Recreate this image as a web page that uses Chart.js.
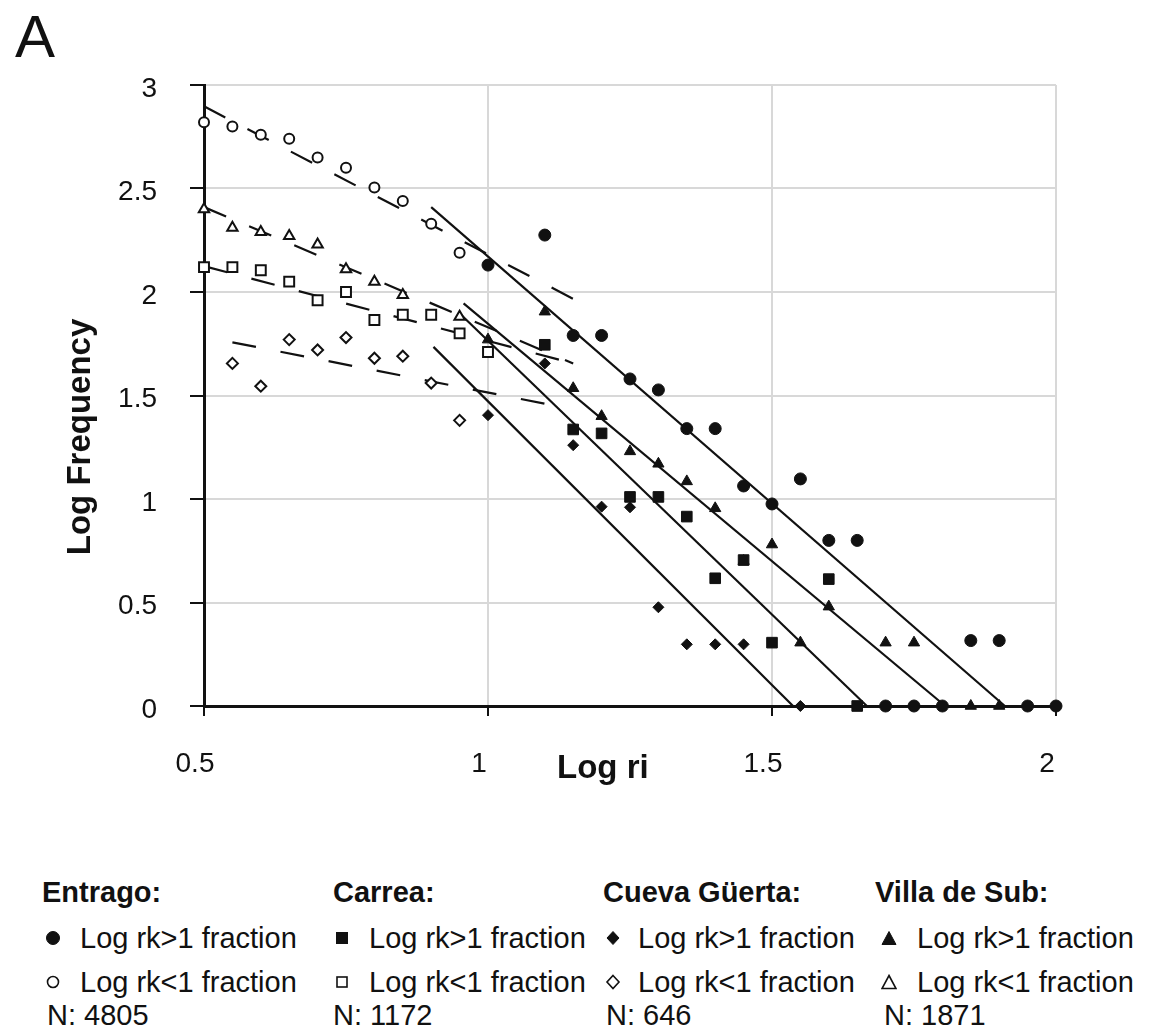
<!DOCTYPE html>
<html>
<head>
<meta charset="utf-8">
<script src="https://cdn.jsdelivr.net/npm/chart.js@4.4.1/dist/chart.umd.min.js"></script>
<style>
  html, body { margin: 0; padding: 0; background: #fff; }
  body { width: 1150px; height: 1036px; position: relative; overflow: hidden;
         font-family: "Liberation Sans", Arial, Helvetica, sans-serif; color: #111; }
  #plot { position: absolute; left: 0; top: 0; width: 1150px; height: 800px; }
  #panel { position: absolute; left: 15px; top: 7px; font-size: 60px; line-height: 60px; }
  .lg { position: absolute; font-size: 29px; line-height: 29px; white-space: nowrap; }
  .lg.head { font-weight: bold; }
  .mk { position: absolute; }
</style>
</head>
<body>
<div id="panel">A</div>
<div id="plot"><canvas id="freqChart"></canvas></div>
<div id="legend"></div>
<script>
// Log ri vs Log frequency, four sites, each split in rk<1 / rk>1 fractions

const xTicks = [0.5, 1, 1.5, 2];
const yTicks = [0, 0.5, 1, 1.5, 2, 2.5, 3];
const xTitle = 'Log ri';
const yTitle = 'Log Frequency';

// Entrago
const entragoLowX  = [0.5, 0.55, 0.6, 0.65, 0.7, 0.75, 0.8, 0.85, 0.9, 0.95];
const entragoLowY  = [2.82, 2.80, 2.76, 2.74, 2.65, 2.60, 2.505, 2.44, 2.33, 2.19];
const entragoHighX = [1.0, 1.1, 1.15, 1.2, 1.25, 1.3, 1.35, 1.4, 1.45, 1.5, 1.55, 1.6, 1.65, 1.7, 1.75, 1.8, 1.85, 1.9, 1.95, 2.0];
const entragoHighY = [2.13, 2.275, 1.79, 1.79, 1.58, 1.527, 1.34, 1.34, 1.063, 0.976, 1.097, 0.80, 0.80, 0, 0, 0, 0.316, 0.316, 0, 0];

// Carrea
const carreaLowX  = [0.5, 0.55, 0.6, 0.65, 0.7, 0.75, 0.8, 0.85, 0.9, 0.95, 1.0];
const carreaLowY  = [2.12, 2.12, 2.105, 2.05, 1.96, 2.0, 1.865, 1.89, 1.89, 1.80, 1.71];
const carreaHighX = [1.1, 1.15, 1.2, 1.25, 1.3, 1.35, 1.4, 1.45, 1.5, 1.6, 1.65];
const carreaHighY = [1.745, 1.336, 1.317, 1.01, 1.01, 0.915, 0.617, 0.705, 0.306, 0.613, 0];

// Cueva Güerta
const cuevaLowX  = [0.55, 0.6, 0.65, 0.7, 0.75, 0.8, 0.85, 0.9, 0.95];
const cuevaLowY  = [1.655, 1.545, 1.77, 1.72, 1.78, 1.68, 1.69, 1.56, 1.38];
const cuevaHighX = [1.0, 1.1, 1.15, 1.2, 1.25, 1.3, 1.35, 1.4, 1.45, 1.55];
const cuevaHighY = [1.405, 1.655, 1.26, 0.963, 0.96, 0.477, 0.298, 0.298, 0.298, 0];

// Villa de Sub
const villaLowX  = [0.5, 0.55, 0.6, 0.65, 0.7, 0.75, 0.8, 0.85, 0.95];
const villaLowY  = [2.40, 2.31, 2.29, 2.27, 2.23, 2.11, 2.05, 1.985, 1.88];
const villaHighX = [1.0, 1.1, 1.15, 1.2, 1.25, 1.3, 1.35, 1.4, 1.45, 1.5, 1.55, 1.6, 1.7, 1.75, 1.85, 1.9];
const villaHighY = [1.77, 1.905, 1.535, 1.40, 1.23, 1.17, 1.085, 0.955, 0.70, 0.78, 0.306, 0.48, 0.306, 0.306, 0, 0];

// fitted lines (start / end)
const entragoFitLowX  = [0.5, 1.15];   const entragoFitLowY  = [2.897, 1.967];
const villaFitLowX    = [0.5, 1.15];   const villaFitLowY    = [2.41, 1.655];
const carreaFitLowX   = [0.5, 1.15];   const carreaFitLowY   = [2.125, 1.655];
const cuevaFitLowX    = [0.55, 1.11];  const cuevaFitLowY    = [1.757, 1.455];
const entragoFitHighX = [0.9, 1.91];   const entragoFitHighY = [2.41, 0];
const villaFitHighX   = [0.957, 1.805]; const villaFitHighY  = [1.945, 0];
const carreaFitHighX  = [0.953, 1.667]; const carreaFitHighY = [1.889, 0];
const cuevaFitHighX   = [0.904, 1.537]; const cuevaFitHighY  = [1.735, 0];

// legend
const siteNames = ['Entrago:', 'Carrea:', 'Cueva Güerta:', 'Villa de Sub:'];
const siteStyles = ['circle', 'rect', 'rectRot', 'triangle'];
const sampleSizes = [4805, 1172, 646, 1871];
const fractionLabels = ['Log rk>1 fraction', 'Log rk<1 fraction'];

const family = '"Liberation Sans", Arial, Helvetica, sans-serif';
const ink = '#111';

function pts(xs, ys) {
    return xs.map((x, i) => ({ x: x, y: ys[i] }));
}

function markerSet(label, xs, ys, style, filled, radius) {
    return {
        label: label,
        data: pts(xs, ys),
        showLine: false,
        pointStyle: style,
        pointRadius: radius,
        pointHoverRadius: radius,
        pointBorderWidth: filled ? 1 : 2,
        pointBackgroundColor: filled ? ink : '#fff',
        pointBorderColor: ink,
        clip: false
    };
}

function fitLine(label, xs, ys, dashed) {
    return {
        label: label,
        data: pts(xs, ys),
        showLine: true,
        pointRadius: 0,
        pointHoverRadius: 0,
        borderColor: ink,
        borderWidth: 2.2,
        borderDash: dashed ? [24, 25] : [],
        fill: false,
        clip: false
    };
}

// axis titles sit off-centre, so they are placed by hand
const axisTitles = {
    id: 'axisTitles',
    afterDraw(chart) {
        const ctx = chart.ctx;
        ctx.save();
        ctx.fillStyle = ink;
        ctx.font = 'bold 33px ' + family;
        ctx.textBaseline = 'alphabetic';
        ctx.textAlign = 'left';
        ctx.fillText(xTitle, 557, 778);
        ctx.translate(90, 437);
        ctx.rotate(-Math.PI / 2);
        ctx.textAlign = 'center';
        ctx.fillText(yTitle, 0, 0);
        ctx.restore();
    }
};

const ctx = document.getElementById('freqChart').getContext('2d');

new Chart(ctx, {
    type: 'scatter',
    data: {
        datasets: [
            markerSet('Entrago rk>1', entragoHighX, entragoHighY, 'circle', true, 6),
            markerSet('Entrago rk<1', entragoLowX, entragoLowY, 'circle', false, 5),
            markerSet('Carrea rk>1', carreaHighX, carreaHighY, 'rect', true, 7.5),
            markerSet('Carrea rk<1', carreaLowX, carreaLowY, 'rect', false, 7),
            markerSet('Cueva rk>1', cuevaHighX, cuevaHighY, 'rectRot', true, 5.5),
            markerSet('Cueva rk<1', cuevaLowX, cuevaLowY, 'rectRot', false, 5.5),
            markerSet('Villa rk>1', villaHighX, villaHighY, 'triangle', true, 6.5),
            markerSet('Villa rk<1', villaLowX, villaLowY, 'triangle', false, 6),
            fitLine('Entrago fit rk>1', entragoFitHighX, entragoFitHighY, false),
            fitLine('Villa fit rk>1', villaFitHighX, villaFitHighY, false),
            fitLine('Carrea fit rk>1', carreaFitHighX, carreaFitHighY, false),
            fitLine('Cueva fit rk>1', cuevaFitHighX, cuevaFitHighY, false),
            fitLine('Entrago fit rk<1', entragoFitLowX, entragoFitLowY, true),
            fitLine('Villa fit rk<1', villaFitLowX, villaFitLowY, true),
            fitLine('Carrea fit rk<1', carreaFitLowX, carreaFitLowY, true),
            fitLine('Cueva fit rk<1', cuevaFitLowX, cuevaFitLowY, true)
        ]
    },
    options: {
        responsive: true,
        maintainAspectRatio: false,
        animation: false,
        layout: { padding: { top: 85, right: 94, left: 0, bottom: 0 } },
        plugins: { legend: { display: false }, tooltip: { enabled: false } },
        scales: {
            x: {
                type: 'linear',
                min: 0.5,
                max: 2,
                afterBuildTicks: s => { s.ticks = xTicks.map(v => ({ value: v })); },
                afterFit: s => { s.height = 94; },
                grid: { color: '#d8d8d8', lineWidth: 2, tickColor: ink, tickWidth: 2, tickLength: 10 },
                border: { color: ink, width: 3 },
                ticks: {
                    color: ink,
                    font: { size: 28, family: family },
                    padding: 31,
                    labelOffset: -9,
                    maxRotation: 0,
                    callback: v => String(v)
                }
            },
            y: {
                type: 'linear',
                min: 0,
                max: 3,
                afterBuildTicks: s => { s.ticks = yTicks.map(v => ({ value: v })); },
                afterFit: s => { s.width = 204; },
                grid: { color: '#d8d8d8', lineWidth: 2, tickColor: ink, tickWidth: 2, tickLength: 14 },
                border: { color: ink, width: 3 },
                ticks: {
                    color: ink,
                    font: { size: 28, family: family },
                    padding: 33,
                    labelOffset: 4,
                    callback: v => String(v)
                }
            }
        }
    },
    plugins: [axisTitles]
});

// legend block under the plot
function markerSvg(style, filled) {
    const fill = filled ? ink : 'none';
    const sw = filled ? 1 : 1.6;
    let shape;
    if (style === 'circle') shape = `<circle cx="8" cy="8" r="${filled ? 6.5 : 5.5}" fill="${fill}" stroke="${ink}" stroke-width="${sw}"/>`;
    else if (style === 'rect') shape = `<rect x="${filled ? 2.5 : 3}" y="${filled ? 2.5 : 3}" width="${filled ? 11 : 10}" height="${filled ? 11 : 10}" fill="${fill}" stroke="${ink}" stroke-width="${sw}"/>`;
    else if (style === 'rectRot') shape = `<polygon points="8,1.5 14,8 8,14.5 2,8" fill="${fill}" stroke="${ink}" stroke-width="${sw}"/>`;
    else shape = `<polygon points="8,1.5 15,14.5 1,14.5" fill="${fill}" stroke="${ink}" stroke-width="${sw}"/>`;
    return `<svg width="16" height="16" viewBox="0 0 16 16">${shape}</svg>`;
}

const legend = document.getElementById('legend');
const headLeft = [42, 333, 603, 875];
const markLeft = [53, 342, 613, 889];
const textLeft = [80, 369, 638, 917];
const nLeft = [47, 333, 606, 884];
const rowCentre = [892, 938, 982, 1015];

siteNames.forEach((name, i) => {
    let html = `<div class="lg head" style="left:${headLeft[i]}px;top:${rowCentre[0] - 14}px">${name}</div>`;
    fractionLabels.forEach((lab, r) => {
        const yc = rowCentre[r + 1];
        html += `<div class="mk" style="left:${markLeft[i] - 8}px;top:${yc - 8}px">${markerSvg(siteStyles[i], r === 0)}</div>`;
        html += `<div class="lg" style="left:${textLeft[i]}px;top:${yc - 14}px">${lab}</div>`;
    });
    html += `<div class="lg" style="left:${nLeft[i]}px;top:${rowCentre[3] - 14}px">N: ${sampleSizes[i]}</div>`;
    legend.insertAdjacentHTML('beforeend', html);
});
</script>
</body>
</html>
